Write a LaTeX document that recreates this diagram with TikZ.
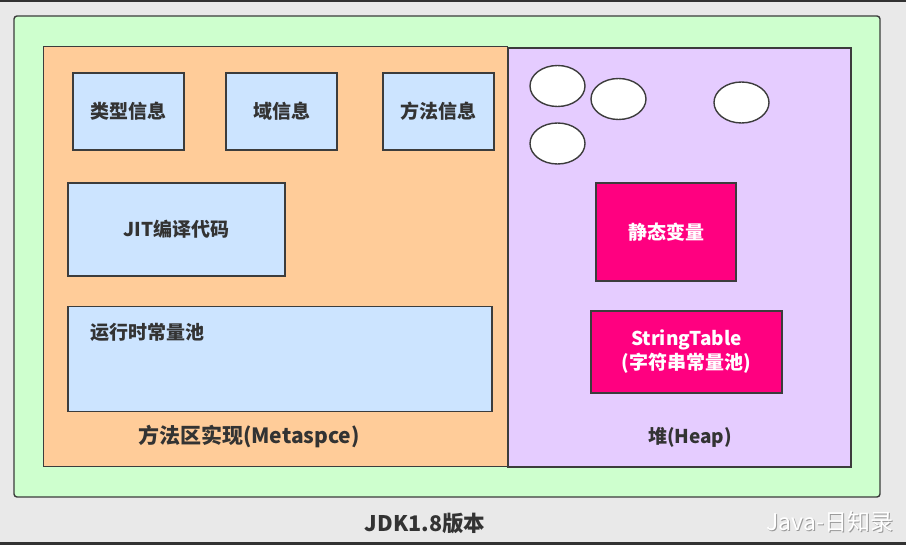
\documentclass[tikz,border=0pt]{standalone}
\usepackage{fontspec}
\setmainfont{Noto Sans CJK SC}
\usetikzlibrary{shapes.geometric}
\definecolor{bgc}{RGB}{233,233,233}
\definecolor{framec}{RGB}{50,50,50}
\definecolor{greenc}{RGB}{206,255,206}
\definecolor{orangec}{RGB}{255,204,153}
\definecolor{purplec}{RGB}{229,204,255}
\definecolor{bluec}{RGB}{204,228,255}
\definecolor{magc}{RGB}{255,0,128}
\definecolor{linec}{RGB}{60,60,60}
\definecolor{txtc}{RGB}{51,51,51}
\tikzset{
  area/.style={draw=linec, line width=1.4pt, inner sep=0pt, outer sep=0pt},
  bluebox/.style={area, fill=bluec, font=\fontsize{19}{23}\selectfont\bfseries, text=txtc},
  magbox/.style={area, fill=magc, font=\fontsize{19}{24}\selectfont\bfseries, text=white, align=center},
  blob/.style={ellipse, draw=linec, line width=1.4pt, fill=white, minimum width=55pt, minimum height=41pt, inner sep=0pt},
  lbl/.style={font=\fontsize{19}{23}\selectfont\bfseries, text=txtc, inner sep=0pt}
}
\begin{document}
\begin{tikzpicture}[x=1pt,y=-1pt]
\useasboundingbox (0,0) rectangle (906,545);
\fill[bgc] (0,0) rectangle (906,545);
\fill[framec] (0,0) rectangle (906,2);
\fill[framec] (0,542) rectangle (906,545);
% containers
\node[area, fill=greenc, rounded corners=3pt, minimum width=866pt, minimum height=481pt] (jdk) at (447,256.5) {};
\node[area, fill=orangec, minimum width=464pt, minimum height=420pt] (meta) at (275.5,256.5) {};
\node[area, fill=purplec, minimum width=343pt, minimum height=419pt] (heap) at (679.5,257.5) {};
% method area contents
\node[bluebox, minimum width=111pt, minimum height=77pt] (type) at (128.5,111.5) {类型信息};
\node[bluebox, minimum width=111pt, minimum height=77pt] (field) at (281.5,111.5) {域信息};
\node[bluebox, minimum width=111pt, minimum height=77pt] (method) at (438.5,111.5) {方法信息};
\node[bluebox, minimum width=217pt, minimum height=93pt] (jit) at (176.5,229.5) {JIT编译代码};
\node[bluebox, minimum width=424pt, minimum height=105pt] (pool) at (280,359) {};
\node[lbl, anchor=west] (poollbl) at (90,332) {运行时常量池};
\node[lbl, font=\fontsize{21}{25}\selectfont\bfseries] (metalbl) at (249,437) {方法区实现(Metaspce)};
% heap contents
\node[blob] (o1) at (557.5,86) {};
\node[blob] (o2) at (618.5,99) {};
\node[blob] (o3) at (557.5,143.5) {};
\node[blob] (o4) at (741.5,102.5) {};
\node[magbox, minimum width=140pt, minimum height=98pt] (static) at (666,232) {静态变量};
\node[magbox, minimum width=191pt, minimum height=82pt] (strtab) at (686.5,352) {StringTable\\(字符串常量池)};
\node[lbl] (heaplbl) at (690,437) {堆(Heap)};
% caption
\node[lbl, font=\fontsize{21.5}{25}\selectfont\bfseries] (cap) at (425,523) {JDK1.8版本};
\node[font=\fontsize{23}{27}\selectfont, text=gray!80, inner sep=0pt] (wmshadow) at (830.8,522.8) {Java-日知录};
\node[font=\fontsize{23}{27}\selectfont, text=white, inner sep=0pt] (wm) at (830,522) {Java-日知录};
\end{tikzpicture}
\end{document}
